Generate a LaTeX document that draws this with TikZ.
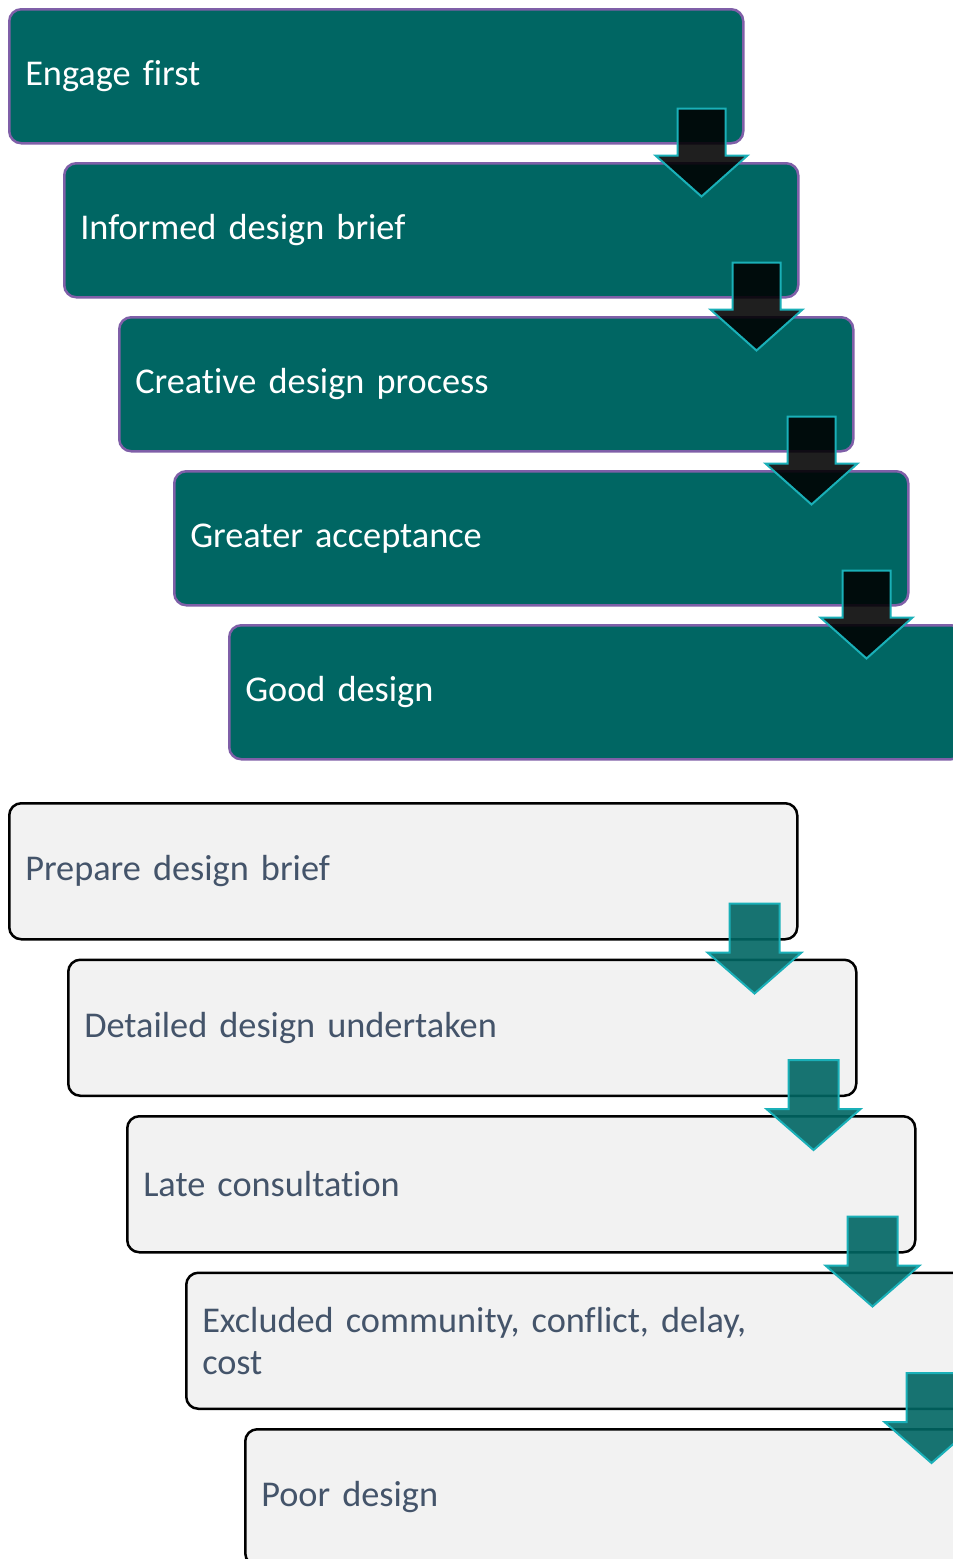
\documentclass[tikz,border=0pt]{standalone}
\usepackage{fontspec}
\setmainfont{Carlito}[Ligatures=NoCommon]
\usetikzlibrary{calc}
\definecolor{tealfill}{HTML}{006663}
\definecolor{purpborder}{HTML}{7F5FA8}
\definecolor{cyanborder}{HTML}{1AB0B8}
\definecolor{greytext}{HTML}{44546A}
\definecolor{lightfill}{HTML}{F2F2F2}
\newcommand\myboxfont{\fontsize{36.3}{42}\selectfont}
\tikzset{
  basebox/.style={line width=2.5pt, rounded corners=12pt, inner xsep=16pt, inner ysep=0pt,
    align=left, anchor=north west, font=\myboxfont},
  topbox/.style={basebox, draw=purpborder, fill=tealfill, text=white,
    minimum width=734pt, minimum height=134pt, text width=702pt},
  botbox/.style={basebox, draw=black, fill=lightfill, text=greytext,
    minimum width=788pt, minimum height=136pt, text width=756pt},
  toparrow/.style={fill=black, fill opacity=0.88, draw=cyanborder, draw opacity=1, line width=2pt, line join=miter},
  botarrow/.style={fill=tealfill, fill opacity=0.9, draw=cyanborder, draw opacity=1, line width=2pt, line join=miter},
  topblock/.pic={\path[pic actions] (-24,36) -- (24,36) -- (24,-11) -- (46,-11) -- (0,-52) -- (-46,-11) -- (-24,-11) -- cycle;},
  botblock/.pic={\path[pic actions] (-25,37) -- (25,37) -- (25,-12) -- (47,-12) -- (0,-53) -- (-47,-12) -- (-25,-12) -- cycle;}
}
\begin{document}
\begin{tikzpicture}[x=1pt,y=1pt]
\useasboundingbox (0,0) rectangle (953,-1559);
% top sequence
\node[topbox] (t1) at (8,-8) {Engage first};
\node[topbox] (t2) at (63,-162) {Informed design brief};
\node[topbox] (t3) at (118,-316) {Creative design process};
\node[topbox] (t4) at (173,-470) {Greater acceptance};
\node[topbox] (t5) at (228,-624) {Good design};
\pic[toparrow] at ($(t1.south east)+(-43,0)$) {topblock};
\pic[toparrow] at ($(t2.south east)+(-43,0)$) {topblock};
\pic[toparrow] at ($(t3.south east)+(-43,0)$) {topblock};
\pic[toparrow] at ($(t4.south east)+(-43,0)$) {topblock};
% bottom sequence
\node[botbox] (b1) at (8,-802) {Prepare design brief};
\node[botbox] (b2) at (67,-958.5) {Detailed design undertaken};
\node[botbox] (b3) at (126,-1115) {Late consultation};
\node[botbox] (b4) at (185,-1271.5) {Excluded community, conflict, delay,\\cost};
\node[botbox] (b5) at (244,-1428) {Poor design};
\pic[botarrow] at ($(b1.south east)+(-44,0)$) {botblock};
\pic[botarrow] at ($(b2.south east)+(-44,0)$) {botblock};
\pic[botarrow] at ($(b3.south east)+(-44,0)$) {botblock};
\pic[botarrow] at ($(b4.south east)+(-44,0)$) {botblock};
\end{tikzpicture}
\end{document}
